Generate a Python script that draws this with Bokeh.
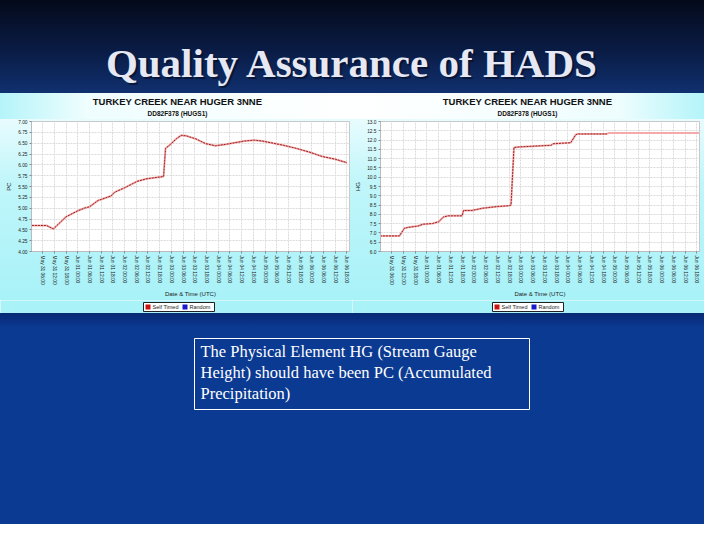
from bokeh.plotting import figure
from bokeh.layouts import column, row
from bokeh.models import Range1d, FixedTicker, NumeralTickFormatter
from bokeh.core.properties import value
from bokeh.embed import file_html
from bokeh.resources import INLINE

# ---------------- data ----------------
slide_title = "Quality Assurance of HADS"
chart_title = "TURKEY CREEK NEAR HUGER 3NNE"
chart_subtitle = "DD82F378 (HUGS1)"
x_axis_title = "Date & Time (UTC)"
legend_labels = ["Self Timed", "Random"]
legend_colors = ["#cc1111", "#1a1acc"]
note_lines = ["The Physical Element HG (Stream Gauge",
              "Height) should have been PC (Accumulated",
              "Precipitation)"]

# x axis: hours after May 31 00:00 UTC
tick_hours = list(range(6, 163, 6))
tick_labels = ["May 31 06:00", "May 31 12:00", "May 31 18:00",
               "Jun 01 00:00", "Jun 01 06:00", "Jun 01 12:00", "Jun 01 18:00",
               "Jun 02 00:00", "Jun 02 06:00", "Jun 02 12:00", "Jun 02 18:00",
               "Jun 03 00:00", "Jun 03 06:00", "Jun 03 12:00", "Jun 03 18:00",
               "Jun 04 00:00", "Jun 04 06:00", "Jun 04 12:00", "Jun 04 18:00",
               "Jun 05 00:00", "Jun 05 06:00", "Jun 05 12:00", "Jun 05 18:00",
               "Jun 06 00:00", "Jun 06 06:00", "Jun 06 12:00", "Jun 06 18:00"]

pc_ticks = [4.00, 4.25, 4.50, 4.75, 5.00, 5.25, 5.50, 5.75, 6.00, 6.25, 6.50, 6.75, 7.00]
hg_ticks = [6.0, 6.5, 7.0, 7.5, 8.0, 8.5, 9.0, 9.5, 10.0, 10.5, 11.0, 11.5, 12.0, 12.5, 13.0]

pc_hours = [0.5, 8, 11.5, 18, 24, 28, 30, 34.5, 36, 41, 43, 48, 54.5, 59.5, 68, 69, 71,
            74.5, 77, 79.5, 84.5, 89.5, 94.5, 99.5, 104.5, 109.5, 114.5, 118.5, 123,
            129.5, 136, 143, 149.5, 156, 162]
pc_values = [4.60, 4.60, 4.52, 4.80, 4.94, 5.01, 5.03, 5.18, 5.20, 5.28, 5.37, 5.47, 5.62,
             5.68, 5.73, 6.38, 6.45, 6.60, 6.68, 6.67, 6.60, 6.49, 6.44, 6.47, 6.51,
             6.55, 6.57, 6.55, 6.51, 6.45, 6.38, 6.29, 6.19, 6.13, 6.05]

hg_hours = [0, 10, 12.5, 14.5, 19.5, 22, 27, 30, 32.5, 35, 42, 42.7, 47, 52.5, 60, 66, 67,
            68.5, 71, 87.5, 88.5, 97.5, 100, 101, 116, 117, 163]
hg_values = [6.84, 6.84, 7.25, 7.30, 7.37, 7.47, 7.51, 7.60, 7.86, 7.92, 7.92, 8.21, 8.21,
             8.33, 8.42, 8.47, 8.50, 11.60, 11.63, 11.72, 11.80, 11.86, 12.28, 12.33,
             12.33, 12.38, 12.38]
hg_reported_until = 116  # dark markers end here

random_hours = []
random_values = []

# ---------------- styles ----------------
SANS = "Liberation Sans"
SERIF = "Liberation Serif"
W = 704
CYAN = "#a8f2f8"


def bare(width, height, x0, x1, y_top, y_bottom, css):
    f = figure(width=width, height=height, x_range=Range1d(x0, x1),
               y_range=Range1d(y_bottom, y_top), x_axis_location=None,
               y_axis_location=None, title=None, output_backend="svg",
               toolbar_location=None, min_border=0)
    f.styles = {"background": css}
    f.border_fill_alpha = 0
    f.background_fill_alpha = 0
    f.outline_line_color = None
    f.grid.visible = False
    return f


def make_chart(width, b_left, b_right, y_label, y_ticks, y_fmt, y_start, y_end,
               hours, values, dark_until):
    p = figure(width=width, height=181, x_range=Range1d(0.3, 163.3),
               y_range=Range1d(y_start, y_end), title=None,
               output_backend="svg", toolbar_location=None,
               min_border_left=b_left, min_border_right=b_right,
               min_border_top=2, min_border_bottom=49)
    p.styles = {"background": "linear-gradient(to bottom, #e8fcfe 0%, #c0f6fa 35%, #a8f2f8 100%)"}
    p.border_fill_alpha = 0
    p.background_fill_color = "white"
    p.outline_line_color = "#c8c8c8"

    p.xaxis.ticker = FixedTicker(ticks=tick_hours)
    p.xaxis.major_label_overrides = dict(zip(tick_hours, tick_labels))
    p.xaxis.major_label_orientation = "vertical"
    p.xaxis.axis_label = x_axis_title
    p.yaxis.ticker = FixedTicker(ticks=y_ticks)
    p.yaxis.formatter = NumeralTickFormatter(format=y_fmt)
    p.yaxis.axis_label = y_label
    for ax in (p.xaxis[0], p.yaxis[0]):
        ax.major_label_text_font = SANS
        ax.major_label_text_font_size = "4.8px"
        ax.major_label_text_color = "#222222"
        ax.axis_label_text_font = SANS
        ax.axis_label_text_font_size = "6px"
        ax.axis_label_text_font_style = "normal"
        ax.axis_label_text_color = "#222222"
        ax.axis_label_standoff = 3
        ax.major_label_standoff = 2
        ax.major_tick_out = 2
        ax.major_tick_in = 0
        ax.minor_tick_out = 0
        ax.minor_tick_in = 0
        ax.axis_line_color = "#bbbbbb"
        ax.major_tick_line_color = "#888888"
    p.xgrid.grid_line_color = "#dadada"
    p.ygrid.grid_line_color = "#dadada"
    p.xgrid.grid_line_dash = "2 1"
    p.ygrid.grid_line_dash = "2 1"

    p.line(hours, values, line_color="#f3aaaa", line_width=2)
    dh = [h for h in hours if h <= dark_until]
    dv = values[:len(dh)]
    p.line(dh, dv, line_color="#8e1414", line_width=0.9, line_dash="2 1")
    p.scatter(random_hours, random_values, marker="square", size=3,
              color=legend_colors[1])
    return p


def make_legend_strip(width, x0):
    # small key under each chart (same look as the reference key box)
    f = figure(width=width, height=13, x_range=Range1d(0, width), y_range=Range1d(0, 13),
               x_axis_location=None, y_axis_location=None, title=None,
               output_backend="svg", toolbar_location=None, min_border=0)
    f.background_fill_color = CYAN
    f.border_fill_color = CYAN
    f.outline_line_color = None
    f.grid.visible = False
    f.quad(left=[x0], right=[x0 + 71], bottom=[2], top=[11], fill_color="white",
           line_color="#222222", line_width=1)
    sq_x = [x0 + 2, x0 + 39]
    f.quad(left=sq_x, right=[s + 5 for s in sq_x], bottom=[4, 4], top=[9, 9],
           fill_color=legend_colors, line_color=None)
    f.text(x=[s + 7 for s in sq_x], y=[6.5, 6.5], text=legend_labels,
           text_font=value(SANS), text_font_size="5.5px", text_color="#222222",
           text_align="left", text_baseline="middle")
    return f


# ---------------- title banner ----------------
top = bare(W, 93, 0, W, 0, 93,
           "linear-gradient(to bottom, #040a1a 0%, #0a1c45 55%, #10306f 100%)")
top.text(x=[354], y=[64], text=[slide_title], text_font=value(SERIF),
         text_font_style="bold", text_font_size="41px", text_color="#050a20",
         text_align="center", text_baseline="alphabetic", text_alpha=0.6)
top.text(x=[352], y=[62], text=[slide_title], text_font=value(SERIF),
         text_font_style="bold", text_font_size="41px", text_color="#e6e8f4",
         text_align="center", text_baseline="alphabetic")

# ---------------- chart headings ----------------
heads = bare(W, 26, 0, W, 0, 26,
             "linear-gradient(to right, #b4f4f9 0%, #eefdfe 12%, #ffffff 50%, #eefdfe 88%, #b4f4f9 100%)")
heads.text(x=[177, 527], y=[8, 8], text=[chart_title, chart_title],
           text_font=value(SANS), text_font_style="bold", text_font_size="9.5px",
           text_color="#111111", text_align="center", text_baseline="middle")
heads.text(x=[177, 527], y=[20, 20], text=[chart_subtitle, chart_subtitle],
           text_font=value(SANS), text_font_style="bold", text_font_size="6.5px",
           text_color="#111111", text_align="center", text_baseline="middle")

left = make_chart(352, 31, 3, "PC", pc_ticks, "0.00", 4.0, 7.0,
                  pc_hours, pc_values, 1000)
right = make_chart(352, 27, 5, "HG", hg_ticks, "0.0", 6.0, 13.0,
                   hg_hours, hg_values, hg_reported_until)
leg_left = make_legend_strip(352, 143)
leg_right = make_legend_strip(352, 140)

# ---------------- note area ----------------
bottom = bare(W, 211, 0, W, 313, 524,
              "linear-gradient(to bottom, #072a74 0px, #0a3388 10px, #0b3a92 14px, #0b3a92 100%)")
bottom.quad(left=[194], right=[529], top=[338], bottom=[409], fill_alpha=0,
            line_color="white", line_width=1)
bottom.text(x=[200] * len(note_lines), y=[351 + 21 * i for i in range(len(note_lines))],
            text=note_lines, text_font=value(SERIF), text_font_size="16.5px",
            text_color="white", text_align="left", text_baseline="alphabetic")

layout = column(top, heads, row(left, right, spacing=0),
                row(leg_left, leg_right, spacing=0), bottom, spacing=0)

open("out.html", "w").write(file_html(layout, INLINE))
